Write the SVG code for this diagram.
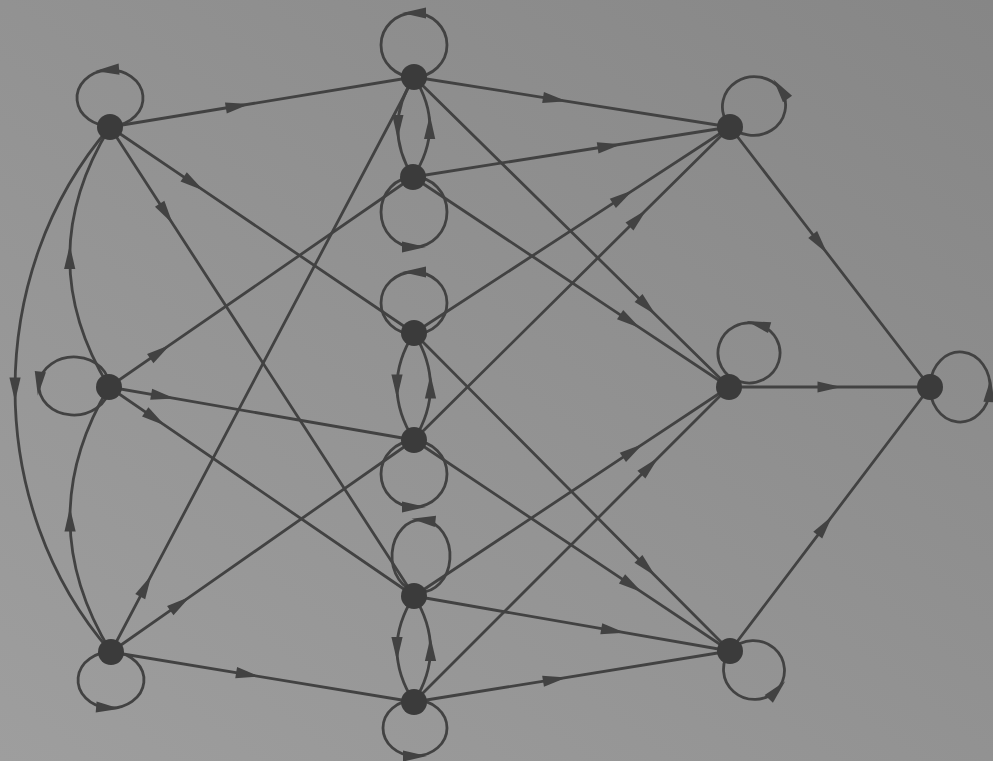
<svg xmlns="http://www.w3.org/2000/svg" width="993" height="761" viewBox="0 0 993 761">
<defs>
<linearGradient id="bg" x1="1" y1="0" x2="0" y2="1">
<stop offset="0" stop-color="#868686"/>
<stop offset="1" stop-color="#9e9e9e"/>
</linearGradient>
<marker id="ah" viewBox="-14 -7 28 14" markerWidth="28" markerHeight="14" refX="0" refY="0" orient="auto" markerUnits="userSpaceOnUse">
<path d="M-12,-5.6 L12,0 L-12,5.6 Z" fill="#424242"/>
</marker>
</defs>
<style>
.e{fill:none;stroke:#424242;stroke-width:2.8;marker-mid:url(#ah)}
.n{fill:#3b3b3b}
</style>
<rect width="993" height="761" fill="url(#bg)"/>
<g id="connectors">
<path class="e" d="M110,127 L237.7,106 L414,77"/>
<path class="e" d="M110,127 L193.6,183.65 L414,333"/>
<path class="e" d="M110,127 L166.2,213.8 L414,596"/>
<path class="e" d="M110,127 C46.6,200 14.9,294.75 15.03,389.5 C15.15,484.25 47.1,579 111,652"/>
<path class="e" d="M109,387 Q69.5,322 69.75,257 Q70,192 110,127"/>
<path class="e" d="M111,652 Q70.5,585.75 70,519.5 Q69.5,453.25 109,387"/>
<path class="e" d="M109,387 L160.1,351.7 L413,177"/>
<path class="e" d="M109,387 L163,396.4 L414,440"/>
<path class="e" d="M109,387 L155.1,418.6 L414,596"/>
<path class="e" d="M111,652 L145.8,585.9 L414,77"/>
<path class="e" d="M111,652 L180.1,603.7 L414,440"/>
<path class="e" d="M111,652 L248,674.6 L414,702"/>
<path class="e" d="M414,77 L554.9,99.3 L730,127"/>
<path class="e" d="M414,77 L647.1,306.4 L729,387"/>
<path class="e" d="M413,177 L609.5,146 L730,127"/>
<path class="e" d="M413,177 L630.1,321.3 L729,387"/>
<path class="e" d="M414,333 L622.9,196.8 L730,127"/>
<path class="e" d="M414,440 L638,218.1 L730,127"/>
<path class="e" d="M414,333 L646.9,567.4 L730,651"/>
<path class="e" d="M414,440 L632,585.6 L730,651"/>
<path class="e" d="M414,596 L632.9,450.7 L729,387"/>
<path class="e" d="M414,702 L649.9,466.1 L729,387"/>
<path class="e" d="M414,596 L613.1,630.7 L730,651"/>
<path class="e" d="M414,702 L554.9,679.3 L730,651"/>
<path class="e" d="M730,127 L820,244 L930,387"/>
<path class="e" d="M729,387 L829.5,387 L930,387"/>
<path class="e" d="M730,651 L825,525.6 L930,387"/>
<path class="e" d="M414,77 Q398,102 397.75,127 Q397.5,152 413,177"/>
<path class="e" d="M413,177 Q429.5,152 429.75,127 Q430,102 414,77"/>
<path class="e" d="M414,333 Q397,359.75 397,386.5 Q397,413.25 414,440"/>
<path class="e" d="M414,440 Q430.5,413.25 430.5,386.5 Q430.5,359.75 414,333"/>
<path class="e" d="M414,596 Q397,622.5 397,649 Q397,675.5 414,702"/>
<path class="e" d="M414,702 Q430.5,675.5 430.5,649 Q430.5,622.5 414,596"/>
<path class="e" d="M112.9,125.9 A33,28 0 0 0 107.1,70.1 A33,28 0 0 0 112.9,125.9"/>
<path class="e" d="M108.9,388.5 A35,29 0 0 0 39.1,383.5 A35,29 0 0 0 108.9,388.5"/>
<path class="e" d="M113.9,652.1 A33,28 0 0 0 108.1,707.9 A33,28 0 0 0 113.9,652.1"/>
<path class="e" d="M414,77 A33,32 0 0 0 414,13 A33,32 0 0 0 414,77"/>
<path class="e" d="M414,177 A33,35 0 0 0 414,247 A33,35 0 0 0 414,177"/>
<path class="e" d="M414,334 A33,31 0 0 0 414,272 A33,31 0 0 0 414,334"/>
<path class="e" d="M414,441 A33,33 0 0 0 414,507 A33,33 0 0 0 414,441"/>
<path class="e" d="M418.5,591.9 A29,36 0 0 0 423.5,520.1 A29,36 0 0 0 418.5,591.9"/>
<path class="e" d="M415,700 A32,28 0 0 0 415,756 A32,28 0 0 0 415,700"/>
<path class="e" d="M727.5,122.8 A32,30 0 0 0 780.5,89.2 A32,30 0 0 0 727.5,122.8"/>
<path class="e" d="M739.9,381.7 A31,30 0 0 0 758.1,324.3 A31,30 0 0 0 739.9,381.7"/>
<path class="e" d="M930.1,383.9 A30,35 0 0 0 989.9,390.1 A30,35 0 0 0 930.1,383.9"/>
<path class="e" d="M731,649.9 A31,30 0 0 0 777,690.1 A31,30 0 0 0 731,649.9"/>
</g>
<g id="nA"><circle class="n" cx="110" cy="127" r="13"/></g>
<g id="nB"><circle class="n" cx="109" cy="387" r="13"/></g>
<g id="nC"><circle class="n" cx="111" cy="652" r="13"/></g>
<g id="nD1"><circle class="n" cx="414" cy="77" r="13"/></g>
<g id="nD2"><circle class="n" cx="413" cy="177" r="13"/></g>
<g id="nD3"><circle class="n" cx="414" cy="333" r="13"/></g>
<g id="nD4"><circle class="n" cx="414" cy="440" r="13"/></g>
<g id="nD5"><circle class="n" cx="414" cy="596" r="13"/></g>
<g id="nD6"><circle class="n" cx="414" cy="702" r="13"/></g>
<g id="nE1"><circle class="n" cx="730" cy="127" r="13"/></g>
<g id="nE2"><circle class="n" cx="729" cy="387" r="13"/></g>
<g id="nE3"><circle class="n" cx="730" cy="651" r="13"/></g>
<g id="nF"><circle class="n" cx="930" cy="387" r="13"/></g>
</svg>
